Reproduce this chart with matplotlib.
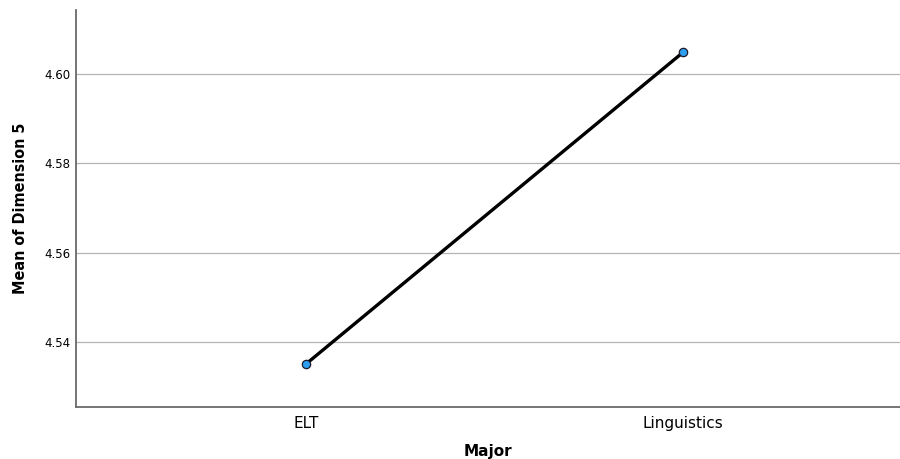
import numpy as np
import matplotlib.pyplot as plt

# data
categories = ["ELT", "Linguistics"]
means = [4.5351, 4.6048]
y_ticks = [4.54, 4.56, 4.58, 4.60]

fig = plt.figure(figsize=(9, 4.59), dpi=100)
ax = fig.add_axes([76 / 900, (459 - 406.5) / 459, 824 / 900, (406.5 - 10) / 459])

x = np.arange(len(categories))
ax.plot(x, means, color="black", linewidth=2.4, zorder=3,
        marker="o", markersize=6, markerfacecolor="#2e9ff0",
        markeredgecolor="#1a1a2a", markeredgewidth=0.9)

ax.set_xlim(-0.61, 1.576)
ax.set_ylim(4.5256, 4.6143)
ax.set_yticks(y_ticks)
ax.set_yticklabels([f"{v:.2f}" for v in y_ticks], fontsize=8.5)
ax.set_xticks(x)
ax.set_xticklabels(categories, fontsize=11)
ax.tick_params(axis="both", length=0, colors="black")
ax.tick_params(axis="x", pad=7)
ax.tick_params(axis="y", pad=4)

ax.grid(axis="y", color="#b4b4b4", linewidth=0.9)
ax.set_axisbelow(True)

for side in ("top", "right"):
    ax.spines[side].set_visible(False)
for side in ("left", "bottom"):
    ax.spines[side].set_color("#6a6a6a")
    ax.spines[side].set_linewidth(1.3)

ax.set_ylabel("Mean of Dimension 5", fontsize=11.5, fontweight="bold",
              fontstretch="condensed", labelpad=12)
ax.set_xlabel("Major", fontsize=11, fontweight="bold", labelpad=9)

fig.savefig("out.png", dpi=100)
